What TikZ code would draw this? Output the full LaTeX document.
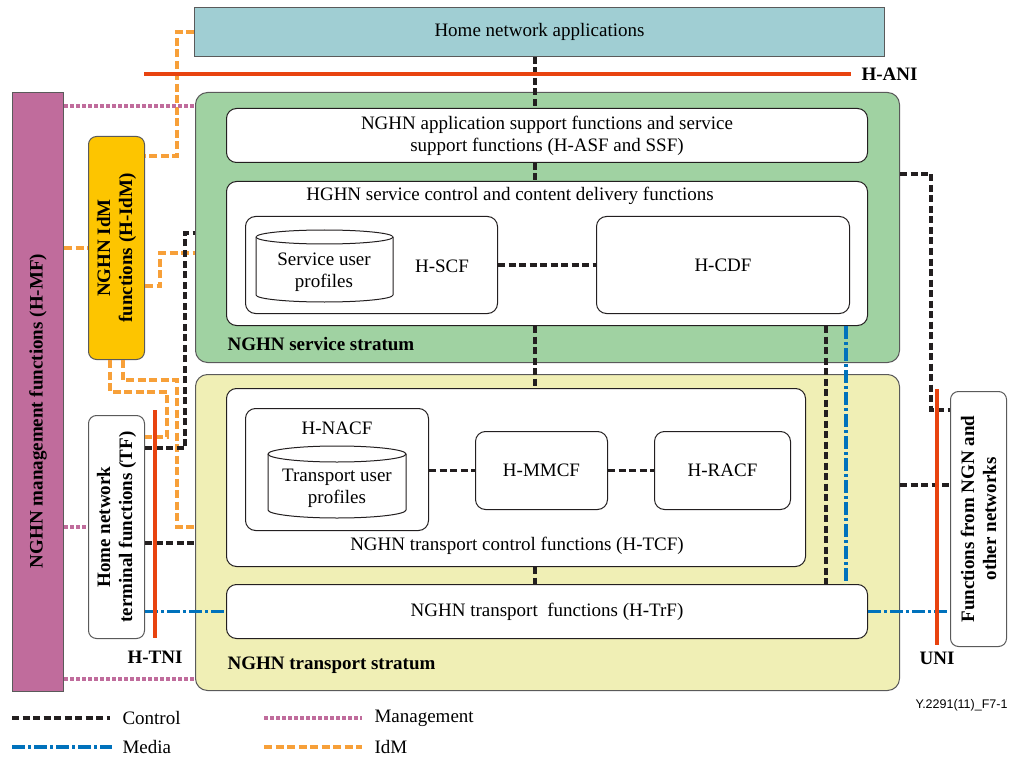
\documentclass[tikz,border=0pt]{standalone}
\usepackage{fontspec}
\setmainfont{Liberation Serif}
\newfontfamily\figidfont{Liberation Sans}
\usepackage{xcolor}
\definecolor{apps-teal}{RGB}{160,206,211}
\definecolor{mf-pink}{RGB}{192,108,156}
\definecolor{idm-yellow}{RGB}{253,197,0}
\definecolor{svc-green}{RGB}{160,210,162}
\definecolor{trs-yellow}{RGB}{240,239,181}
\definecolor{iface-red}{RGB}{232,67,15}
\definecolor{ctrl-dark}{RGB}{35,31,32}
\definecolor{media-blue}{RGB}{0,114,188}
\definecolor{idm-orange}{RGB}{247,160,57}
\definecolor{edge-gray}{RGB}{90,90,90}
\usepackage{tikz}
\usetikzlibrary{positioning}

\begin{document}
\begin{tikzpicture}[x=1pt, y=-1pt,
    every node/.append style={font=\fontsize{19}{22}\selectfont},
    stratum/.style={draw=edge-gray, line width=1pt, rounded corners=12pt, anchor=north west, inner sep=0pt},
    fn box/.style={draw=ctrl-dark, line width=1pt, fill=white, rounded corners=10pt, anchor=north west, inner sep=0pt, align=center},
    side box/.style={draw=edge-gray, line width=1pt, anchor=north west, inner sep=0pt},
    side text/.style={rotate=90, align=center, font=\fontsize{19}{22}\selectfont\bfseries},
    stratum label/.style={anchor=west, font=\fontsize{19}{22}\selectfont\bfseries},
    iface/.style={draw=iface-red, line width=4pt},
    iface label/.style={font=\fontsize{19}{22}\selectfont\bfseries},
    ctrl/.style={draw=ctrl-dark, line width=3.5pt, dash pattern=on 7pt off 3.5pt},
    media/.style={draw=media-blue, line width=3.5pt, dash pattern=on 13pt off 3pt on 3pt off 3pt},
    mgmt/.style={draw=mf-pink, line width=3.5pt, dash pattern=on 3.5pt off 2.5pt},
    idm/.style={draw=idm-orange, line width=3.5pt, dash pattern=on 8pt off 3.5pt},
    db/.style={draw=ctrl-dark, line width=1pt, fill=white}
]
\useasboundingbox (0,0) rectangle (1011,759);

% Home network applications on top
\node[side box, fill=apps-teal, minimum width=690pt, minimum height=49pt] (apps) at (194,7) {Home network applications};

% Service stratum
\node[stratum, fill=svc-green, minimum width=704pt, minimum height=270pt] (svc) at (195,92) {};
\node[stratum label] (svc-label) at (224,344) {NGHN service stratum};
\node[fn box, minimum width=641pt, minimum height=54pt] (asf) at (226,108) {NGHN application support functions and service\\support functions (H-ASF and SSF)};
\node[fn box, minimum width=641pt, minimum height=144pt] (scdf) at (226,181) {};
\node (scdf-title) at (510,196) {HGHN service control and content delivery functions};
\node[fn box, minimum width=252pt, minimum height=97pt] (hscf) at (245,216) {};
\draw[db] (256,237) -- (256,295) arc[start angle=180, end angle=0, x radius=68.5, y radius=7]
    -- (393,237) arc[start angle=0, end angle=-180, x radius=68.5, y radius=7] -- cycle;
\draw[db] (256,237) arc[start angle=180, end angle=0, x radius=68.5, y radius=7];
\node[align=center] (supdb) at (324,272) {Service user\\profiles};
\node (hscf-label) at (442,266) {H-SCF};
\node[fn box, minimum width=253pt, minimum height=97pt] (hcdf) at (596,216) {H-CDF};

% Transport stratum
\node[stratum, fill=trs-yellow, minimum width=704pt, minimum height=316pt] (trs) at (195,374) {};
\node[stratum label] (trs-label) at (224,665) {NGHN transport stratum};
\node[fn box, minimum width=579pt, minimum height=178pt] (htcf) at (226,388) {};
\node (htcf-label) at (517,546) {NGHN transport control functions (H-TCF)};
\node[fn box, minimum width=183pt, minimum height=122pt] (hnacf) at (245,408) {};
\node (hnacf-label) at (337,428) {H-NACF};
\draw[db] (268,454) -- (268,510) arc[start angle=180, end angle=0, x radius=69, y radius=8]
    -- (406,454) arc[start angle=0, end angle=-180, x radius=69, y radius=8] -- cycle;
\draw[db] (268,454) arc[start angle=180, end angle=0, x radius=69, y radius=8];
\node[align=center] (tupdb) at (337,488) {Transport user\\profiles};
\node[fn box, minimum width=132pt, minimum height=78pt] (hmmcf) at (475,431) {H-MMCF};
\node[fn box, minimum width=136pt, minimum height=78pt] (hracf) at (654,431) {H-RACF};
\node[fn box, minimum width=641pt, minimum height=54pt] (htrf) at (226,584) {NGHN transport\ \ functions (H-TrF)};

% Side function blocks
\node[side box, fill=mf-pink, minimum width=51pt, minimum height=599pt] (hmf) at (12,92) {};
\node[side text] (hmf-text) at (38,411) {NGHN management functions (H-MF)};
\node[side box, fill=idm-yellow, rounded corners=8pt, minimum width=56pt, minimum height=223pt] (idm) at (88,136) {};
\node[side text] (idm-text) at (idm.center) {NGHN IdM\\functions (H-IdM)};
\node[side box, fill=white, rounded corners=8pt, minimum width=56pt, minimum height=223pt] (tf) at (88,415) {};
\node[side text] (tf-text) at (tf.center) {Home network\\terminal functions (TF)};
\node[side box, fill=white, rounded corners=8pt, minimum width=56pt, minimum height=255pt] (fngn) at (950,391) {};
\node[side text] (fngn-text) at (fngn.center) {Functions from NGN and\\other networks};

% IdM
\draw[idm] (apps.west |- 0,32) -| (177,156) -- (idm.east |- 0,156);
\draw[idm] (hmf.east |- 0,248) -- (idm.west |- 0,248);
\draw[idm] (idm.east |- 0,286) -| (160,253) -- (svc.west |- 0,253);
\draw[idm] (110,0 |- idm.south) |- (167,392) |- (tf.east |- 0,437);
\draw[idm] (123,0 |- idm.south) |- (177,380) |- (trs.west |- 0,527);

% Management
\draw[mgmt] (hmf.east |- 0,106) -- (svc.west |- 0,106);
\draw[mgmt] (hmf.east |- 0,527) -- (tf.west |- 0,527);
\draw[mgmt] (hmf.east |- 0,679) -- (trs.west |- 0,679);

% Media
\draw[media] (846,0 |- scdf.south) -- (846,0 |- htrf.north);
\draw[media] (tf.east |- htrf.west) -- (htrf.west);
\draw[media] (htrf.east) -- (fngn.west |- htrf.east);

% Control
\coordinate (spine) at (535,0);
\draw[ctrl] (spine |- apps.south) -- (spine |- asf.north);
\draw[ctrl] (spine |- asf.south) -- (spine |- scdf.north);
\draw[ctrl] (spine |- scdf.south) -- (spine |- htcf.north);
\draw[ctrl] (spine |- htcf.south) -- (spine |- htrf.north);
\draw[ctrl] (hscf) -- (hcdf);
\draw[ctrl] (hnacf.east |- hmmcf) -- (hmmcf.west);
\draw[ctrl] (hmmcf) -- (hracf);
\draw[ctrl] (826,0 |- scdf.south) -- (826,0 |- htrf.north);
\coordinate (ngn-ctrl) at (931,410);
\draw[ctrl] (svc.east |- 0,174) -| (ngn-ctrl) -- (ngn-ctrl -| fngn.west);
\draw[ctrl] (trs.east |- 0,485) -- (fngn.west |- 0,485);
\draw[ctrl] (tf.east |- 0,448) -| (185,233) -- (svc.west |- 0,233);
\draw[ctrl] (tf.east |- 0,543) -- (trs.west |- 0,543);

% Reference points
\coordinate (hani-w) at (144,74);
\coordinate (hani-e) at (851,74);
\draw[iface] (hani-w) -- (hani-e);
\node[iface label, anchor=west] (hani) at (858,74) {H-ANI};
\coordinate (htni-n) at (155,410);
\coordinate (htni-s) at (155,638);
\draw[iface] (htni-n) -- (htni-s);
\node[iface label, below=10pt of htni-s] (htni) {H-TNI};
\coordinate (uni-n) at (937,389);
\coordinate (uni-s) at (937,645);
\draw[iface] (uni-n) -- (uni-s);
\node[iface label, below=4pt of uni-s] (uni) {UNI};

% Legend
\node[anchor=west] (lg-ctrl) at (119,718) {Control};
\draw[ctrl] (12,718) -- ([xshift=-9pt]lg-ctrl.west);
\node[anchor=west] (lg-media) at (119,747) {Media};
\draw[media] (12,747) -- ([xshift=-7pt]lg-media.west);
\node[anchor=west] (lg-mgmt) at (371,718) {Management};
\draw[mgmt] (264,718) -- ([xshift=-9pt]lg-mgmt.west);
\node[anchor=west] (lg-idm) at (371,747) {IdM};
\draw[idm] (264,747) -- ([xshift=-9pt]lg-idm.west);
\node[anchor=east, font=\figidfont\fontsize{12.5}{14}\selectfont] (fig-id) at (1011,705) {Y.2291(11)\_F7-1};

\end{tikzpicture}
\end{document}
